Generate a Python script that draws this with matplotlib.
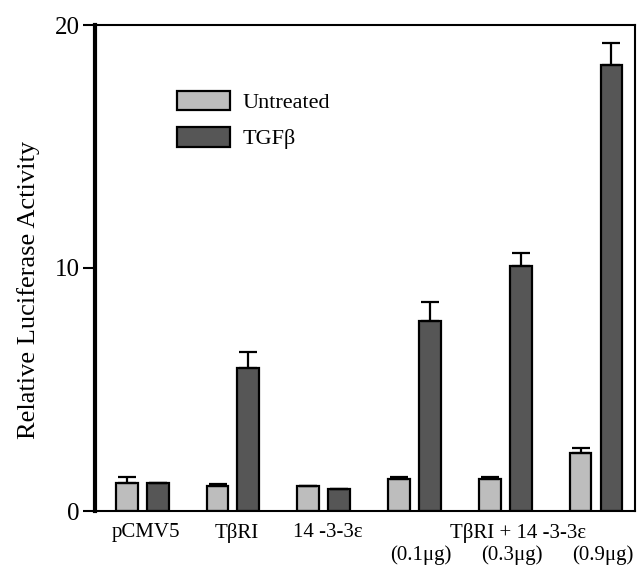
import numpy as np
import matplotlib
matplotlib.use("Agg")
import matplotlib.pyplot as plt
from matplotlib.patches import Patch

plt.rcParams['font.family'] = ['Liberation Serif', 'DejaVu Serif']

# values
groups = ['pCMV5', 'TβRI', '14 -3-3ε', '0.1', '0.3', '0.9']
untreated = [1.15, 1.03, 1.03, 1.3, 1.3, 2.4]
untreated_err = [0.25, 0.07, 0.0, 0.1, 0.1, 0.2]
tgfb = [1.15, 5.9, 0.9, 7.8, 10.1, 18.35]
tgfb_err = [0.0, 0.65, 0.0, 0.8, 0.5, 0.9]
dose_labels = ['(0.1μg)', '(0.3μg)', '(0.9μg)']

light = '#bdbdbd'
dark = '#565656'

fig = plt.figure(figsize=(6.4, 5.67), dpi=100)
ax = fig.add_axes([95/640, 1 - 511/567, 540/640, 486/567])

x = np.arange(len(groups))
off, w = 0.17, 0.24
ax.bar(x - off, untreated, w, color=light, edgecolor='black', linewidth=1.6,
       yerr=[np.zeros(len(x)), untreated_err], capsize=6.5,
       error_kw=dict(elinewidth=1.6, capthick=1.6, ecolor='black'))
ax.bar(x + off, tgfb, w, color=dark, edgecolor='black', linewidth=1.6,
       yerr=[np.zeros(len(x)), tgfb_err], capsize=6.5,
       error_kw=dict(elinewidth=1.6, capthick=1.6, ecolor='black'))

ax.set_xlim(-0.52, 5.43)
ax.set_ylim(0, 20)
ax.set_yticks([0, 10, 20])
ax.tick_params(axis='y', direction='out', length=9, width=1.5, labelsize=18, pad=2)
ax.set_xticks([])
ax.spines['left'].set_linewidth(3)
for s in ['top', 'right', 'bottom']:
    ax.spines[s].set_linewidth(1.5)

ax.set_ylabel('Relative Luciferase Activity', fontsize=19)
ax.yaxis.set_label_coords(-0.102, 0.455)

# category labels under the groups
trans = ax.get_xaxis_transform()
for i, name in enumerate(groups[:3]):
    ax.text(i + 0.04, -0.025, name, transform=trans, ha='center', va='top', fontsize=15)
ax.text(4.14, -0.025, 'TβRI + 14 -3-3ε', transform=trans, ha='center', va='top', fontsize=15)
for i, lab in zip(range(3, 6), dose_labels):
    ax.text(i + 0.07, -0.07, lab, transform=trans, ha='center', va='top', fontsize=15)

handles = [Patch(facecolor=light, edgecolor='black', linewidth=1.6, label='Untreated'),
           Patch(facecolor=dark, edgecolor='black', linewidth=1.6, label='TGFβ')]
ax.legend(handles=handles, loc='upper left', bbox_to_anchor=(0.152, 0.865),
          frameon=False, fontsize=16, handlelength=2.36, handleheight=1.0,
          labelspacing=0.62, handletextpad=0.6, borderpad=0, borderaxespad=0)

fig.savefig('out.png', dpi=100)
